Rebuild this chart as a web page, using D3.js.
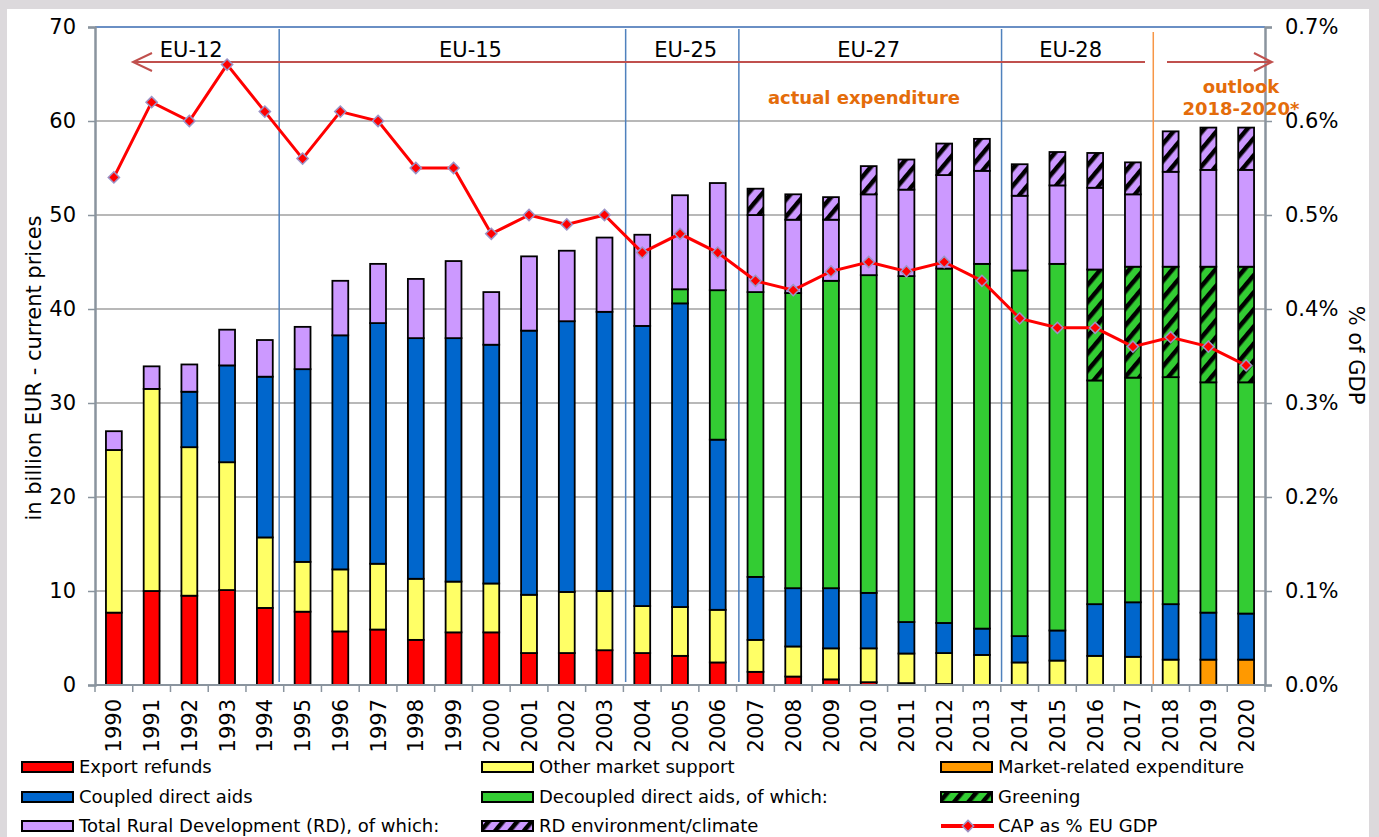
<html>
<head>
  <title>CAP expenditure</title>
  <meta charset="utf-8" />
<style>
  html, body {
    margin: 0;
    padding: 0;
    background: #dcd9dc;
  }
  #chart {
    width: 1379px;
    height: 837px;
  }
  text {
    font-family: "DejaVu Sans", Verdana, sans-serif;
  }
</style>
</head>
<body>
<div id="chart"></div>
<script src="https://cdnjs.cloudflare.com/ajax/libs/d3/7.8.5/d3.min.js"></script>
<script>

var years = [1990,1991,1992,1993,1994,1995,1996,1997,1998,1999,2000,2001,2002,2003,2004,2005,
             2006,2007,2008,2009,2010,2011,2012,2013,2014,2015,2016,2017,2018,2019,2020];

// billion EUR, current prices
var exportRefunds = [7.7,10.0,9.5,10.1,8.2,7.8,5.7,5.9,4.8,5.6,5.6,3.4,3.4,3.7,3.4,3.1,
                     2.4,1.4,0.9,0.6,0.3,0.2,0.1,0,0,0,0,0,0,0,0];
var otherMarket = [17.3,21.5,15.8,13.6,7.5,5.3,6.6,7.0,6.5,5.4,5.2,6.2,6.5,6.3,5.0,5.2,
                   5.6,3.4,3.2,3.3,3.6,3.15,3.3,3.2,2.4,2.6,3.1,3.0,2.7,0,0];
var marketRelated = [0,0,0,0,0,0,0,0,0,0,0,0,0,0,0,0,
                     0,0,0,0,0,0,0,0,0,0,0,0,0,2.7,2.7];
var coupled = [0,0,5.9,10.3,17.1,20.5,24.9,25.6,25.6,25.9,25.4,28.1,28.8,29.7,29.8,32.3,
               18.1,6.7,6.2,6.4,5.9,3.35,3.2,2.8,2.8,3.2,5.5,5.8,5.9,5.0,4.9];
// decoupled total, greening included
var decoupled = [0,0,0,0,0,0,0,0,0,0,0,0,0,0,0,1.5,
                 15.9,30.3,31.4,32.7,33.8,36.8,37.7,38.8,38.9,39.0,35.6,35.7,35.9,36.8,36.9];
var greening = [0,0,0,0,0,0,0,0,0,0,0,0,0,0,0,0,
                0,0,0,0,0,0,0,0,0,0,11.8,11.8,11.75,12.3,12.3];
// rural development total, environment/climate included
var rdTotal = [2.0,2.4,2.9,3.8,3.9,4.5,5.8,6.3,6.3,8.2,5.6,7.9,7.5,7.9,9.7,10.0,
               11.4,11.0,10.5,8.9,11.6,12.4,13.3,13.3,11.3,11.9,12.4,11.1,14.4,14.8,14.8];
var rdEnv = [0,0,0,0,0,0,0,0,0,0,0,0,0,0,0,0,
             0,2.8,2.7,2.4,3.0,3.2,3.35,3.4,3.35,3.55,3.7,3.4,4.3,4.5,4.5];
// CAP as % of EU GDP
var capGdp = [0.54,0.62,0.60,0.66,0.61,0.56,0.61,0.60,0.55,0.55,0.48,0.50,0.49,0.50,0.46,0.48,
              0.46,0.43,0.42,0.44,0.45,0.44,0.45,0.43,0.39,0.38,0.38,0.36,0.37,0.36,0.34];

var leftTicks = [0,10,20,30,40,50,60,70];
var rightTicks = [0,0.1,0.2,0.3,0.4,0.5,0.6,0.7];

// enlargement periods, position in bands from the left edge
var periods = [
  {label: "EU-12", pos: 2.55},
  {label: "EU-15", pos: 9.95},
  {label: "EU-25", pos: 15.65},
  {label: "EU-27", pos: 20.5},
  {label: "EU-28", pos: 25.85}
];
var separators = [4.88, 14.06, 17.06, 24.02];
var outlookSep = 28.04;

var legendItems = [
  {label: "Export refunds", fill: "#ff0000"},
  {label: "Other market support", fill: "#ffff66"},
  {label: "Market-related expenditure", fill: "#ff9900"},
  {label: "Coupled direct aids", fill: "#0066cc"},
  {label: "Decoupled direct aids, of which:", fill: "#33cc33"},
  {label: "Greening", fill: "url(#hatchGreen)"},
  {label: "Total Rural Development (RD), of which:", fill: "#cc99ff"},
  {label: "RD environment/climate", fill: "url(#hatchPurple)"},
  {label: "CAP as % EU GDP", line: true}
];

var width = 1379, height = 837;
var margin = {top: 27, left: 95, right: 114, bottom: 152};
var plotW = width - margin.left - margin.right;
var plotH = height - margin.top - margin.bottom;

var svg = d3.select("#chart").append("svg")
    .attr("width", width)
    .attr("height", height);

var defs = svg.append("defs");
function hatch(id, bg) {
  var p = defs.append("pattern")
      .attr("id", id)
      .attr("patternUnits", "userSpaceOnUse")
      .attr("width", 11)
      .attr("height", 11)
      .attr("patternTransform", "rotate(40)");
  p.append("rect").attr("width", 11).attr("height", 11).attr("fill", bg);
  p.append("rect").attr("x", 0).attr("width", 4.5).attr("height", 11).attr("fill", "#000");
}
hatch("hatchGreen", "#33cc33");
hatch("hatchPurple", "#cc99ff");

// white panel
svg.append("rect")
    .attr("x", 7).attr("y", 9)
    .attr("width", 1362).attr("height", height - 9)
    .attr("fill", "#fff");

var g = svg.append("g").attr("transform", "translate(" + margin.left + "," + margin.top + ")");

var x = d3.scaleBand()
    .domain(years)
    .range([0, plotW])
    .paddingInner(0.58)
    .paddingOuter(0.29);
var step = x.step();

var y = d3.scaleLinear().domain([0, 70]).range([plotH, 0]);
var y2 = d3.scaleLinear().domain([0, 0.7]).range([plotH, 0]);

// gridlines
g.append("g")
  .selectAll("line")
  .data(leftTicks.slice(1))
  .enter().append("line")
    .attr("x1", 0).attr("x2", plotW)
    .attr("y1", function(d) { return y(d); })
    .attr("y2", function(d) { return y(d); })
    .attr("stroke", "#a0a0a0")
    .attr("stroke-width", 1.5);

// period separators
g.append("g")
  .selectAll("line")
  .data(separators)
  .enter().append("line")
    .attr("x1", function(d) { return d * step; })
    .attr("x2", function(d) { return d * step; })
    .attr("y1", 2).attr("y2", plotH - 3)
    .attr("stroke", "#4f81bd")
    .attr("stroke-width", 1.5);
g.append("line")
    .attr("x1", outlookSep * step).attr("x2", outlookSep * step)
    .attr("y1", 5).attr("y2", plotH)
    .attr("stroke", "#f79646")
    .attr("stroke-width", 1.5);

// stacked bars
var keys = ["exp", "oth", "mrk", "cpl", "dec", "grn", "rd", "env"];
var fills = {exp: "#ff0000", oth: "#ffff66", mrk: "#ff9900", cpl: "#0066cc", dec: "#33cc33",
             grn: "url(#hatchGreen)", rd: "#cc99ff", env: "url(#hatchPurple)"};
var rows = years.map(function(yr, i) {
  return {
    year: yr,
    exp: exportRefunds[i],
    oth: otherMarket[i],
    mrk: marketRelated[i],
    cpl: coupled[i],
    dec: decoupled[i] - greening[i],
    grn: greening[i],
    rd: rdTotal[i] - rdEnv[i],
    env: rdEnv[i]
  };
});
var series = d3.stack().keys(keys)(rows);

g.append("g")
  .selectAll("g")
  .data(series)
  .enter().append("g")
    .attr("fill", function(d) { return fills[d.key]; })
  .selectAll("rect")
  .data(function(d) { return d.filter(function(s) { return s[1] - s[0] > 0; }); })
  .enter().append("rect")
    .attr("x", function(d) { return x(d.data.year); })
    .attr("width", x.bandwidth())
    .attr("y", function(d) { return y(d[1]); })
    .attr("height", function(d) { return y(d[0]) - y(d[1]); })
    .attr("stroke", "#000")
    .attr("stroke-width", 1.8);

// axes
var axisColor = "#8a949e";
g.append("line")
    .attr("x1", 0).attr("x2", plotW).attr("y1", 0).attr("y2", 0)
    .attr("stroke", "#6a8fc4").attr("stroke-width", 2);
g.append("line")
    .attr("x1", 0).attr("x2", plotW).attr("y1", plotH).attr("y2", plotH)
    .attr("stroke", axisColor).attr("stroke-width", 2);

var yAxis = g.append("g").call(d3.axisLeft(y).tickValues(leftTicks).tickSize(7).tickPadding(12));
var yAxis2 = g.append("g").attr("transform", "translate(" + plotW + ",0)")
    .call(d3.axisRight(y2).tickValues(rightTicks).tickSize(7).tickPadding(13)
      .tickFormat(function(d) { return d.toFixed(1) + "%"; }));
[yAxis, yAxis2].forEach(function(a) {
  a.select(".domain").attr("stroke", axisColor).attr("stroke-width", 2.5);
  a.selectAll(".tick line").attr("stroke", axisColor).attr("stroke-width", 1.5);
  a.selectAll("text")
      .attr("font-family", "'DejaVu Sans', Verdana, sans-serif")
      .attr("font-size", "21px")
      .attr("fill", "#000");
});

// x ticks at band edges
g.append("g")
  .selectAll("line")
  .data(d3.range(years.length + 1))
  .enter().append("line")
    .attr("x1", function(d) { return d * step; })
    .attr("x2", function(d) { return d * step; })
    .attr("y1", plotH).attr("y2", plotH + 7)
    .attr("stroke", axisColor)
    .attr("stroke-width", 1.5);

g.append("g")
  .selectAll("text")
  .data(years)
  .enter().append("text")
    .attr("transform", function(d) {
      return "translate(" + (x(d) + x.bandwidth() / 2) + "," + (plotH + 14) + ") rotate(-90)";
    })
    .attr("text-anchor", "end")
    .attr("dy", "0.36em")
    .attr("font-size", "21px")
    .text(function(d) { return d; });

// axis titles
svg.append("text")
    .attr("transform", "translate(41,368) rotate(-90)")
    .attr("text-anchor", "middle")
    .attr("font-size", "21px")
    .text("in billion EUR - current prices");
svg.append("text")
    .attr("transform", "translate(1349,355) rotate(90)")
    .attr("text-anchor", "middle")
    .attr("font-size", "21px")
    .text("% of GDP");

// period arrow and labels
var arrowY = 35;
var arrowColor = "#c0504d";
var arrow = g.append("g").attr("stroke", arrowColor).attr("stroke-width", 2).attr("fill", "none");
arrow.append("line").attr("x1", 38).attr("x2", 1050).attr("y1", arrowY).attr("y2", arrowY);
arrow.append("line").attr("x1", 1072).attr("x2", plotW + 7).attr("y1", arrowY).attr("y2", arrowY);
arrow.append("path").attr("d", "M57," + (arrowY - 9) + " L38," + arrowY + " L57," + (arrowY + 9));
arrow.append("path").attr("d", "M" + (plotW - 11) + "," + (arrowY - 9) + " L" + (plotW + 7) + "," + arrowY +
                                " L" + (plotW - 11) + "," + (arrowY + 9));

g.append("g")
  .selectAll("text")
  .data(periods)
  .enter().append("text")
    .attr("x", function(d) { return d.pos * step; })
    .attr("y", 30)
    .attr("text-anchor", "middle")
    .attr("font-size", "21px")
    .text(function(d) { return d.label; });

var orange = "#e46c0a";
g.append("text")
    .attr("x", 769).attr("y", 77)
    .attr("text-anchor", "middle")
    .attr("font-size", "18px").attr("font-weight", "bold")
    .attr("fill", orange)
    .text("actual expenditure");
g.append("text")
    .attr("x", 1146).attr("y", 66)
    .attr("text-anchor", "middle")
    .attr("font-size", "18px").attr("font-weight", "bold")
    .attr("fill", orange)
    .text("outlook");
g.append("text")
    .attr("x", 1146).attr("y", 88)
    .attr("text-anchor", "middle")
    .attr("font-size", "18px").attr("font-weight", "bold")
    .attr("fill", orange)
    .text("2018-2020*");

// CAP as % of GDP line
var line = d3.line()
    .x(function(d, i) { return x(years[i]) + x.bandwidth() / 2; })
    .y(function(d) { return y2(d); });
g.append("path")
    .datum(capGdp)
    .attr("d", line)
    .attr("fill", "none")
    .attr("stroke", "#ff0000")
    .attr("stroke-width", 3);

var diamond = d3.symbol().type(d3.symbolDiamond2).size(80);
g.append("g")
  .selectAll("path")
  .data(capGdp)
  .enter().append("path")
    .attr("d", diamond)
    .attr("transform", function(d, i) {
      return "translate(" + (x(years[i]) + x.bandwidth() / 2) + "," + y2(d) + ")";
    })
    .attr("fill", "#ff0000")
    .attr("stroke", "#9c93c6")
    .attr("stroke-width", 1.5);

// legend
var colX = [22, 482, 941];
var rowY = [767, 797, 826];
var legend = svg.append("g")
  .selectAll("g")
  .data(legendItems)
  .enter().append("g")
    .attr("transform", function(d, i) {
      return "translate(" + colX[i % 3] + "," + rowY[Math.floor(i / 3)] + ")";
    });

legend.filter(function(d) { return !d.line; })
  .append("rect")
    .attr("x", 0).attr("y", -5)
    .attr("width", 51).attr("height", 10)
    .attr("fill", function(d) { return d.fill; })
    .attr("stroke", "#000")
    .attr("stroke-width", 2);

var lineItem = legend.filter(function(d) { return d.line; });
lineItem.append("line")
    .attr("x1", 0).attr("x2", 53).attr("y1", 0).attr("y2", 0)
    .attr("stroke", "#ff0000").attr("stroke-width", 4);
lineItem.append("path")
    .attr("d", diamond)
    .attr("transform", "translate(27,0)")
    .attr("fill", "#ff0000")
    .attr("stroke", "#9c93c6")
    .attr("stroke-width", 1.5);

legend.append("text")
    .attr("x", 57)
    .attr("y", 0)
    .attr("dy", "0.36em")
    .attr("font-size", "18px")
    .text(function(d) { return d.label; });

</script>
</body>
</html>
